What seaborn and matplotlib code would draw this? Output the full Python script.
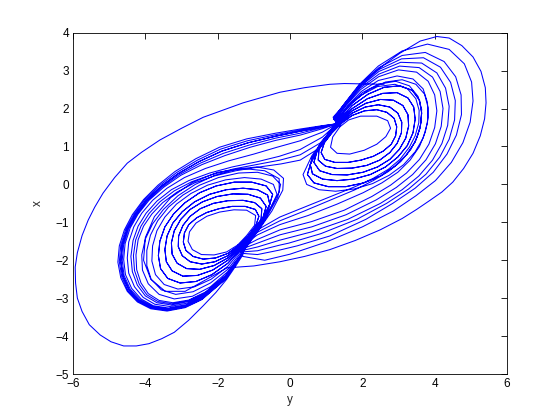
import numpy as np
import pandas as pd
import matplotlib
matplotlib.use("Agg")
import matplotlib.pyplot as plt
import seaborn as sns

# Points: (y, x) pairs, in drawing order.
# start of the orbit: the wide single loop round the left lobe
transient = [(2.6, 2.64), (2.1, 2.65), (1.5, 2.66), (1.1, 2.64), (0.4, 2.55), (-0.28, 2.43), (-1.3, 2.15),
             (-2.4, 1.77), (-3.0, 1.48), (-3.6, 1.17), (-4.1, 0.85), (-4.5, 0.56), (-4.85, 0.18),
             (-5.17, -0.23), (-5.4, -0.6), (-5.58, -0.94), (-5.75, -1.35), (-5.88, -1.8), (-5.94, -2.18),
             (-5.93, -2.6), (-5.88, -3.0), (-5.75, -3.35), (-5.55, -3.7), (-5.25, -3.97), (-4.95, -4.15),
             (-4.6, -4.26), (-4.25, -4.26), (-3.9, -4.2), (-3.55, -4.07), (-3.2, -3.9), (-2.8, -3.58),
             (-2.4, -3.2), (-2.05, -2.85), (-1.75, -2.5), (-1.5, -2.15), (-1.3, -1.85)]

# left lobe, loops that stay in the lobe (small to large)
left_0 = [(-1.45, -1.6), (-1.75, -1.78), (-2.1, -1.86), (-2.45, -1.85), (-2.7, -1.72), (-2.82, -1.5),
          (-2.78, -1.25), (-2.6, -1.02), (-2.3, -0.84), (-1.95, -0.73), (-1.55, -0.67), (-1.2, -0.68),
          (-0.95, -0.82), (-0.98, -1.08), (-1.2, -1.35), (-1.45, -1.6)]
left_a = [(-1.43, -1.62), (-1.72, -1.82), (-2.06, -1.94), (-2.4, -1.97), (-2.68, -1.9), (-2.88, -1.74),
          (-2.95, -1.52), (-2.92, -1.28), (-2.8, -1.06), (-2.58, -0.88), (-2.3, -0.74), (-1.96, -0.64),
          (-1.6, -0.58), (-1.24, -0.58), (-0.96, -0.66), (-0.86, -0.84), (-0.95, -1.1), (-1.16, -1.36),
          (-1.43, -1.62)]
left_b = [(-1.42, -1.64), (-1.72, -1.88), (-2.08, -2.04), (-2.44, -2.1), (-2.76, -2.04), (-2.98, -1.88),
          (-3.09, -1.64), (-3.08, -1.36), (-2.96, -1.08), (-2.76, -0.84), (-2.48, -0.64), (-2.12, -0.5),
          (-1.72, -0.43), (-1.3, -0.42), (-0.98, -0.48), (-0.78, -0.64), (-0.8, -0.92), (-1.06, -1.28),
          (-1.42, -1.64)]
left_c = [(-1.4, -1.66), (-1.72, -1.94), (-2.1, -2.14), (-2.5, -2.24), (-2.86, -2.22), (-3.12, -2.08),
          (-3.26, -1.84), (-3.28, -1.54), (-3.2, -1.22), (-3.02, -0.92), (-2.76, -0.66), (-2.42, -0.46),
          (-2.02, -0.32), (-1.58, -0.25), (-1.16, -0.26), (-0.82, -0.36), (-0.66, -0.58), (-0.78, -0.98),
          (-1.1, -1.36), (-1.4, -1.66)]
left_d = [(-1.38, -1.68), (-1.72, -2.0), (-2.14, -2.26), (-2.56, -2.4), (-2.96, -2.42), (-3.26, -2.28),
          (-3.42, -2.04), (-3.46, -1.72), (-3.4, -1.36), (-3.24, -1.02), (-2.98, -0.72), (-2.64, -0.46),
          (-2.22, -0.26), (-1.76, -0.14), (-1.3, -0.1), (-0.9, -0.14), (-0.62, -0.28), (-0.56, -0.52),
          (-0.85, -1.1), (-1.38, -1.68)]
left_e = [(-1.36, -1.7), (-1.72, -2.08), (-2.16, -2.38), (-2.6, -2.56), (-3.04, -2.6), (-3.38, -2.48),
          (-3.58, -2.22), (-3.64, -1.88), (-3.6, -1.5), (-3.46, -1.12), (-3.22, -0.78), (-2.9, -0.48),
          (-2.5, -0.22), (-2.04, -0.04), (-1.54, 0.06), (-1.06, 0.06), (-0.66, -0.04), (-0.48, -0.26),
          (-0.62, -0.72), (-1.36, -1.7)]
left_f = [(-1.34, -1.72), (-1.72, -2.16), (-2.18, -2.5), (-2.64, -2.7), (-3.1, -2.76), (-3.48, -2.64),
          (-3.72, -2.38), (-3.82, -2.02), (-3.8, -1.62), (-3.68, -1.22), (-3.46, -0.86), (-3.14, -0.52),
          (-2.74, -0.24), (-2.28, -0.02), (-1.78, 0.12), (-1.26, 0.18), (-0.8, 0.14), (-0.46, 0.0),
          (-0.36, -0.26), (-0.6, -0.75), (-1.34, -1.72)]
left_g = [(-1.32, -1.75), (-1.72, -2.24), (-2.2, -2.6), (-2.68, -2.83), (-3.16, -2.9), (-3.56, -2.78),
          (-3.84, -2.5), (-3.96, -2.14), (-3.96, -1.74), (-3.86, -1.34), (-3.66, -0.96), (-3.36, -0.6),
          (-2.96, -0.28), (-2.5, -0.02), (-1.98, 0.18), (-1.42, 0.3), (-0.9, 0.32), (-0.48, 0.22),
          (-0.26, 0.0), (-0.34, -0.34), (-0.7, -0.95), (-1.32, -1.75)]
left_h = [(-1.3, -1.78), (-1.72, -2.3), (-2.2, -2.7), (-2.7, -2.95), (-3.2, -3.02), (-3.62, -2.9),
          (-3.92, -2.62), (-4.08, -2.26), (-4.1, -1.86), (-4.0, -1.44), (-3.8, -1.04), (-3.5, -0.66),
          (-3.1, -0.3), (-2.62, 0.0), (-2.08, 0.24), (-1.5, 0.4), (-0.92, 0.46), (-0.45, 0.38),
          (-0.18, 0.16), (-0.2, -0.15), (-0.5, -0.7), (-0.9, -1.25), (-1.3, -1.78)]

# left lobe, loops that cross to the right lobe along the top band
left_exit_a = [(-1.3, -1.8), (-1.78, -2.4), (-2.34, -2.84), (-2.8, -3.05), (-3.24, -3.12), (-3.62, -3.06),
               (-3.92, -2.88), (-4.12, -2.6), (-4.24, -2.25), (-4.26, -1.86), (-4.2, -1.46), (-4.05, -1.1),
               (-3.82, -0.78), (-3.52, -0.48), (-3.12, -0.2), (-2.64, 0.04), (-2.1, 0.22), (-1.5, 0.36),
               (-0.85, 0.46), (-0.25, 0.54), (0.28, 0.64), (0.8, 0.95), (1.3, 1.6)]
left_exit_g = [(-1.3, -1.8), (-1.78, -2.41), (-2.35, -2.86), (-2.81, -3.07), (-3.26, -3.15), (-3.65, -3.09),
               (-3.96, -2.91), (-4.17, -2.63), (-4.3, -2.27), (-4.33, -1.88), (-4.27, -1.47), (-4.12, -1.1),
               (-3.9, -0.77), (-3.6, -0.46), (-3.2, -0.17), (-2.72, 0.07), (-2.16, 0.26), (-1.55, 0.41),
               (-0.88, 0.53), (-0.28, 0.64), (0.28, 0.78), (0.85, 1.1), (1.3, 1.6)]
left_exit_b = [(-1.3, -1.8), (-1.78, -2.42), (-2.36, -2.88), (-2.82, -3.09), (-3.28, -3.18), (-3.68, -3.12),
               (-4.0, -2.94), (-4.22, -2.66), (-4.36, -2.3), (-4.4, -1.9), (-4.34, -1.48), (-4.2, -1.1),
               (-3.98, -0.76), (-3.68, -0.44), (-3.28, -0.14), (-2.8, 0.1), (-2.22, 0.3), (-1.6, 0.46),
               (-0.9, 0.6), (-0.3, 0.74), (0.28, 0.92), (0.9, 1.25), (1.3, 1.6)]
left_exit_c = [(-1.3, -1.8), (-1.78, -2.44), (-2.38, -2.92), (-2.84, -3.13), (-3.32, -3.22), (-3.74, -3.16),
               (-4.06, -2.98), (-4.3, -2.7), (-4.46, -2.34), (-4.5, -1.94), (-4.46, -1.52), (-4.32, -1.12),
               (-4.1, -0.76), (-3.8, -0.42), (-3.4, -0.1), (-2.92, 0.18), (-2.34, 0.42), (-1.7, 0.62),
               (-1.0, 0.8), (-0.36, 0.98), (0.28, 1.15), (0.9, 1.38), (1.3, 1.6)]
left_exit_d = [(-1.3, -1.8), (-1.78, -2.46), (-2.4, -2.96), (-2.86, -3.17), (-3.36, -3.26), (-3.78, -3.2),
               (-4.12, -3.02), (-4.38, -2.74), (-4.55, -2.38), (-4.6, -1.98), (-4.56, -1.56), (-4.42, -1.15),
               (-4.2, -0.78), (-3.9, -0.42), (-3.5, -0.08), (-3.02, 0.24), (-2.44, 0.52), (-1.8, 0.76),
               (-1.1, 0.98), (-0.4, 1.16), (0.28, 1.3), (0.9, 1.47), (1.3, 1.6)]
left_exit_h = [(-1.3, -1.8), (-1.78, -2.47), (-2.41, -2.98), (-2.87, -3.19), (-3.37, -3.28), (-3.8, -3.22),
               (-4.15, -3.04), (-4.42, -2.76), (-4.59, -2.4), (-4.64, -2.0), (-4.6, -1.58), (-4.46, -1.16),
               (-4.24, -0.79), (-3.94, -0.42), (-3.54, -0.07), (-3.06, 0.26), (-2.48, 0.56), (-1.84, 0.82),
               (-1.12, 1.04), (-0.4, 1.22), (0.28, 1.35), (0.9, 1.5), (1.3, 1.6)]
left_exit_e = [(-1.3, -1.8), (-1.78, -2.48), (-2.42, -3.0), (-2.88, -3.21), (-3.38, -3.3), (-3.82, -3.24),
               (-4.18, -3.06), (-4.45, -2.78), (-4.62, -2.42), (-4.68, -2.02), (-4.64, -1.6), (-4.5, -1.18),
               (-4.28, -0.8), (-3.98, -0.42), (-3.58, -0.06), (-3.1, 0.28), (-2.52, 0.6), (-1.88, 0.88),
               (-1.15, 1.1), (-0.4, 1.27), (0.28, 1.4), (0.9, 1.52), (1.3, 1.6)]
left_exit_i = [(-1.3, -1.8), (-1.78, -2.49), (-2.43, -3.02), (-2.89, -3.23), (-3.39, -3.32), (-3.84, -3.26),
               (-4.2, -3.08), (-4.48, -2.8), (-4.65, -2.44), (-4.72, -2.04), (-4.68, -1.61), (-4.54, -1.19),
               (-4.32, -0.8), (-4.02, -0.41), (-3.62, -0.04), (-3.14, 0.31), (-2.56, 0.64), (-1.92, 0.93),
               (-1.18, 1.15), (-0.4, 1.31), (0.28, 1.43), (0.9, 1.54), (1.3, 1.6)]
left_exit_f = [(-1.3, -1.8), (-1.78, -2.5), (-2.44, -3.04), (-2.9, -3.25), (-3.4, -3.34), (-3.85, -3.28),
               (-4.22, -3.1), (-4.5, -2.82), (-4.68, -2.46), (-4.76, -2.05), (-4.72, -1.62), (-4.58, -1.2),
               (-4.36, -0.8), (-4.05, -0.4), (-3.65, -0.02), (-3.18, 0.34), (-2.6, 0.68), (-1.95, 0.98),
               (-1.2, 1.2), (-0.4, 1.35), (0.28, 1.46), (0.9, 1.55), (1.3, 1.6)]

# right lobe, loops that stay in the lobe (small to large)
right_0 = [(1.38, 1.52), (1.62, 1.7), (1.95, 1.8), (2.4, 1.8), (2.7, 1.68), (2.78, 1.48), (2.65, 1.26),
           (2.4, 1.06), (2.05, 0.9), (1.65, 0.8), (1.3, 0.82), (1.12, 0.98), (1.18, 1.25), (1.38, 1.52)]
right_a = [(1.43, 1.62), (1.72, 1.82), (2.06, 1.94), (2.4, 1.97), (2.68, 1.9), (2.88, 1.74), (2.95, 1.52),
           (2.92, 1.28), (2.8, 1.06), (2.58, 0.88), (2.3, 0.74), (1.96, 0.64), (1.6, 0.58), (1.24, 0.58),
           (0.96, 0.66), (0.86, 0.84), (0.95, 1.1), (1.16, 1.36), (1.43, 1.62)]
right_b = [(1.42, 1.64), (1.72, 1.88), (2.08, 2.04), (2.44, 2.1), (2.76, 2.04), (2.98, 1.88), (3.09, 1.64),
           (3.08, 1.36), (2.96, 1.08), (2.76, 0.84), (2.48, 0.64), (2.12, 0.5), (1.72, 0.43), (1.3, 0.42),
           (0.98, 0.48), (0.78, 0.64), (0.8, 0.92), (1.06, 1.28), (1.42, 1.64)]
right_c = [(1.4, 1.66), (1.72, 1.94), (2.1, 2.14), (2.5, 2.24), (2.86, 2.22), (3.12, 2.08), (3.26, 1.84),
           (3.28, 1.54), (3.2, 1.22), (3.02, 0.92), (2.76, 0.66), (2.42, 0.46), (2.02, 0.32), (1.58, 0.25),
           (1.16, 0.26), (0.82, 0.36), (0.66, 0.58), (0.78, 0.98), (1.1, 1.36), (1.4, 1.66)]
right_d = [(1.38, 1.68), (1.72, 2.0), (2.14, 2.26), (2.56, 2.4), (2.96, 2.42), (3.26, 2.28), (3.42, 2.04),
           (3.46, 1.72), (3.4, 1.36), (3.24, 1.02), (2.98, 0.72), (2.64, 0.46), (2.22, 0.26), (1.76, 0.14),
           (1.3, 0.1), (0.9, 0.14), (0.62, 0.28), (0.56, 0.52), (0.85, 1.1), (1.38, 1.68)]
right_e = [(1.36, 1.7), (1.72, 2.08), (2.16, 2.38), (2.6, 2.56), (3.04, 2.6), (3.38, 2.48), (3.58, 2.22),
           (3.64, 1.88), (3.6, 1.5), (3.46, 1.12), (3.22, 0.78), (2.9, 0.48), (2.5, 0.22), (2.04, 0.04),
           (1.54, -0.06), (1.06, -0.06), (0.66, 0.04), (0.48, 0.26), (0.62, 0.72), (1.36, 1.7)]
right_f = [(1.34, 1.72), (1.72, 2.16), (2.18, 2.5), (2.64, 2.7), (3.1, 2.76), (3.48, 2.64), (3.72, 2.38),
           (3.82, 2.02), (3.8, 1.62), (3.68, 1.22), (3.46, 0.86), (3.14, 0.52), (2.74, 0.24), (2.28, 0.02),
           (1.78, -0.12), (1.26, -0.18), (0.8, -0.14), (0.46, 0.0), (0.36, 0.26), (0.6, 0.75), (1.34, 1.72)]

# right lobe, loops that cross to the left lobe along the bottom band
right_exit_a = [(1.3, 1.7), (1.6, 2.04), (1.98, 2.36), (2.42, 2.58), (2.9, 2.64), (3.25, 2.52), (3.48, 2.26),
                (3.57, 1.95), (3.56, 1.62), (3.46, 1.28), (3.3, 0.98), (3.04, 0.66), (2.72, 0.4), (2.3, 0.16),
                (1.8, -0.06), (1.1, -0.33), (0.4, -0.6), (-0.28, -0.86), (-0.9, -1.2), (-1.4, -1.65)]
right_exit_a2 = [(1.3, 1.68), (1.6, 2.06), (2.0, 2.42), (2.44, 2.64), (2.92, 2.72), (3.3, 2.6), (3.54, 2.32),
                 (3.64, 1.98), (3.62, 1.62), (3.52, 1.26), (3.34, 0.92), (3.06, 0.6), (2.72, 0.34), (2.3, 0.1),
                 (1.8, -0.14), (1.1, -0.42), (0.4, -0.7), (-0.28, -0.96), (-0.9, -1.26), (-1.4, -1.66)]
right_exit_h = [(1.28, 1.7), (1.58, 2.06), (1.97, 2.45), (2.44, 2.74), (2.96, 2.86), (3.4, 2.78), (3.68, 2.52),
                (3.8, 2.16), (3.82, 1.76), (3.74, 1.38), (3.58, 1.0), (3.32, 0.64), (2.98, 0.32), (2.54, 0.04),
                (2.02, -0.22), (1.3, -0.52), (0.5, -0.82), (-0.28, -1.06), (-0.9, -1.33), (-1.4, -1.68)]
right_exit_b = [(1.25, 1.7), (1.55, 2.08), (1.95, 2.5), (2.45, 2.84), (3.0, 3.02), (3.5, 2.96), (3.82, 2.72),
                (4.0, 2.36), (4.06, 1.94), (4.0, 1.5), (3.84, 1.06), (3.58, 0.66), (3.22, 0.3), (2.78, -0.02),
                (2.26, -0.32), (1.5, -0.68), (0.6, -0.98), (-0.28, -1.2), (-0.9, -1.45), (-1.4, -1.7)]
right_exit_g = [(1.24, 1.71), (1.54, 2.1), (1.94, 2.54), (2.46, 2.91), (3.03, 3.12), (3.57, 3.08), (3.94, 2.83),
                (4.15, 2.45), (4.23, 2.0), (4.18, 1.53), (4.02, 1.07), (3.76, 0.65), (3.39, 0.26), (2.94, -0.08),
                (2.38, -0.41), (1.55, -0.8), (0.6, -1.12), (-0.28, -1.33), (-0.9, -1.55), (-1.38, -1.72)]
right_exit_c = [(1.22, 1.72), (1.52, 2.12), (1.94, 2.58), (2.46, 2.98), (3.06, 3.22), (3.64, 3.2), (4.06, 2.94),
                (4.3, 2.54), (4.4, 2.06), (4.36, 1.56), (4.2, 1.08), (3.94, 0.64), (3.56, 0.22), (3.1, -0.14),
                (2.5, -0.5), (1.6, -0.92), (0.6, -1.25), (-0.28, -1.47), (-0.9, -1.65), (-1.35, -1.75)]
right_exit_i = [(1.21, 1.72), (1.51, 2.12), (1.93, 2.6), (2.46, 3.03), (3.08, 3.31), (3.69, 3.34), (4.16, 3.09),
                (4.44, 2.69), (4.57, 2.21), (4.55, 1.7), (4.4, 1.19), (4.14, 0.72), (3.76, 0.27), (3.28, -0.12),
                (2.67, -0.5), (1.85, -0.92), (0.85, -1.3), (-0.04, -1.55), (-0.28, -1.6), (-0.9, -1.75),
                (-1.32, -1.78)]
right_exit_d = [(1.2, 1.72), (1.5, 2.12), (1.92, 2.62), (2.46, 3.08), (3.1, 3.4), (3.74, 3.48), (4.26, 3.24),
                (4.58, 2.84), (4.73, 2.36), (4.74, 1.84), (4.6, 1.3), (4.34, 0.8), (3.96, 0.32), (3.46, -0.1),
                (2.84, -0.5), (2.1, -0.92), (1.1, -1.36), (0.2, -1.62), (-0.28, -1.73), (-0.9, -1.85),
                (-1.3, -1.82)]
right_exit_e = [(1.2, 1.74), (1.48, 2.1), (1.9, 2.62), (2.44, 3.12), (3.1, 3.52), (3.8, 3.7), (4.4, 3.56),
                (4.82, 3.18), (5.02, 2.7), (5.06, 2.2), (4.98, 1.64), (4.78, 1.1), (4.46, 0.58), (4.02, 0.1),
                (3.48, -0.3), (2.86, -0.7), (2.0, -1.12), (1.0, -1.52), (0.0, -1.84), (-0.7, -2.0),
                (-1.3, -1.9)]
right_exit_f = [(1.19, 1.77), (1.42, 2.02), (1.66, 2.3), (1.98, 2.62), (2.3, 2.93), (2.66, 3.2), (3.04, 3.46),
                (3.6, 3.78), (4.06, 3.9), (4.4, 3.86), (4.75, 3.66), (5.06, 3.36), (5.28, 2.98), (5.4, 2.55),
                (5.42, 2.15), (5.38, 1.73), (5.26, 1.28), (5.06, 0.82), (4.8, 0.42), (4.5, 0.06), (4.2, -0.2),
                (3.87, -0.42), (3.5, -0.66), (3.1, -0.9), (2.49, -1.2), (1.8, -1.48), (1.1, -1.72),
                (0.4, -1.9), (-0.28, -2.04), (-1.0, -2.15), (-1.74, -2.2), (-2.3, -2.5), (-2.9, -2.82),
                (-3.45, -2.82), (-3.85, -2.5), (-4.05, -2.0), (-4.0, -1.4), (-3.75, -0.85), (-3.3, -0.35),
                (-2.7, 0.05), (-2.0, 0.32), (-1.3, 0.42), (-0.7, 0.36), (-0.3, 0.15), (-0.3, -0.2),
                (-0.7, -0.9), (-1.3, -1.78)]

orbit = [transient, left_0, left_b, left_d, left_exit_a,
         right_0, right_b, right_e, right_exit_a,
         left_a, left_c, left_f, left_exit_c,
         right_a, right_c, right_exit_b,
         left_e, left_h, left_exit_e,
         right_d, right_f, right_exit_c,
         left_g, left_exit_b,
         right_exit_a2,
         left_d, left_exit_d,
         right_e, right_exit_d,
         left_exit_f,
         right_c, right_exit_f,
         left_exit_e,
         right_b, right_exit_e,
         left_b, left_exit_g,
         right_a, right_exit_h,
         left_c, left_exit_h,
         right_d, right_exit_g,
         left_e, left_exit_i,
         right_exit_i, left_a]

pts = [p for seg in orbit for p in seg]
df = pd.DataFrame(pts, columns=["y", "x"])

sns.set_theme(style="white")
plt.rcParams["font.family"] = ["Liberation Sans", "DejaVu Sans"]

fig = plt.figure(figsize=(5.6, 4.2), dpi=100)
ax = fig.add_axes([0.1304, 0.1095, 0.775, 0.8126])
sns.lineplot(data=df, x="y", y="x", sort=False, estimator=None, color="#0000ff",
             linewidth=0.75, ax=ax)

ax.set_xlim(-6, 6)
ax.set_ylim(-5, 4)
ax.set_xticks(np.arange(-6, 7, 2))
ax.set_yticks(np.arange(-5, 5, 1))
ax.tick_params(direction="in", top=True, right=True, length=4, width=0.6,
               labelsize=8.5, colors="black", pad=3)
for s in ax.spines.values():
    s.set_color("black")
    s.set_linewidth(0.6)
ax.set_xlabel("y", fontsize=8.5, labelpad=3)
ax.set_ylabel("x", fontsize=8.5, labelpad=8)

fig.savefig("out.png", dpi=100)
